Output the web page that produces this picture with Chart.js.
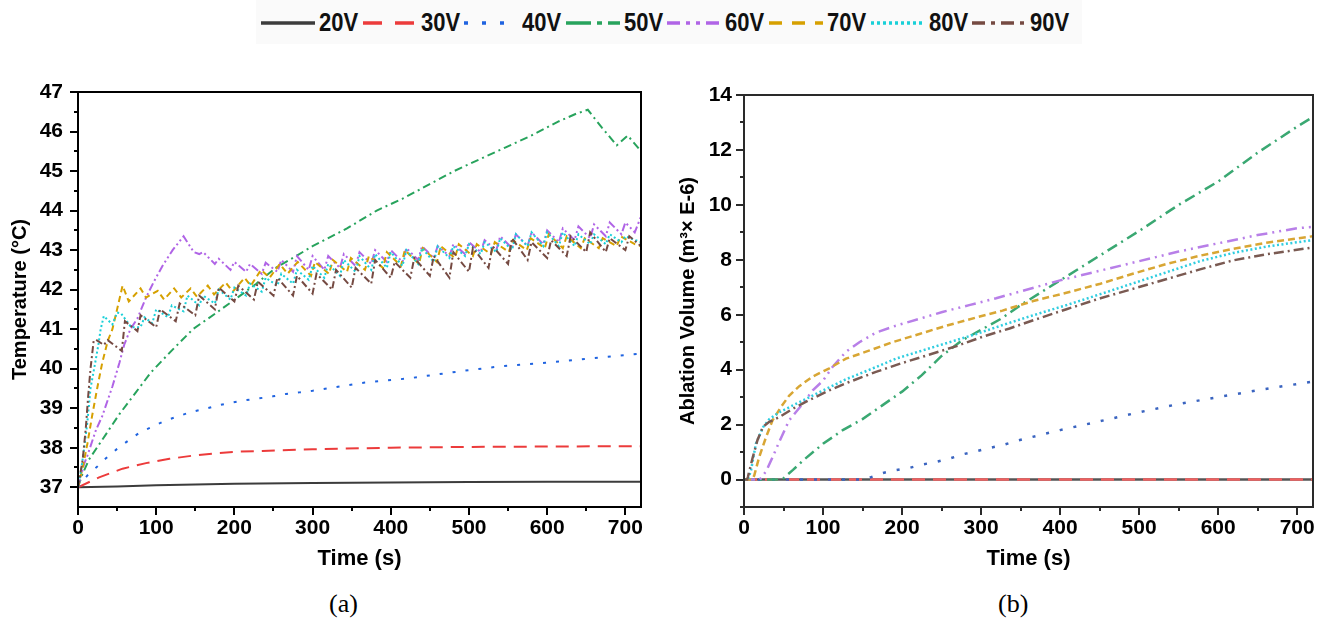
<!DOCTYPE html>
<html>
<head>
<meta charset="utf-8">
<script src="https://cdn.jsdelivr.net/npm/chart.js@4.4.0/dist/chart.umd.min.js"></script>
<style>
    html, body { margin: 0; padding: 0; background: #fff; }
    body { width: 1325px; height: 621px; position: relative; overflow: hidden; font-family: 'Liberation Sans', Arial, sans-serif; }
    #legend { position: absolute; left: 256px; top: 0; width: 826px; height: 44px; background: #fafafa; }
    .item { position: absolute; top: 0; height: 44px; width: 100px; }
    .item svg { position: absolute; left: 0; top: 19px; }
    .item span { position: absolute; left: 58px; top: 10px; font-size: 25px; line-height: 25px; font-weight: bold; color: #111; transform: scaleX(0.88); transform-origin: 0 50%; white-space: nowrap; }
    .cap { position: absolute; top: 589px; font-family: 'Liberation Serif', 'Times New Roman', serif; font-size: 26px; color: #000; }
    canvas { position: absolute; top: 50px; }
</style>
</head>
<body>
<div id="legend"></div>
<canvas id="tempChart" width="665" height="530" style="left:0"></canvas>
<canvas id="volChart" width="660" height="530" style="left:665px"></canvas>
<div class="cap" style="left:329px">(a)</div>
<div class="cap" style="left:998px">(b)</div>
<script>
(function() {
    Chart.defaults.font.family = "'Liberation Sans', Arial, sans-serif";
    Chart.defaults.color = '#000';

    // ---- values ----
    const voltages = ['20V', '30V', '40V', '50V', '60V', '70V', '80V', '90V'];
    const timeTicks = [0, 50, 100, 150, 200, 250, 300, 350, 400, 450, 500, 550, 600, 650, 700];
    const tempTicks = [37, 37.5, 38, 38.5, 39, 39.5, 40, 40.5, 41, 41.5, 42, 42.5, 43, 43.5, 44, 44.5, 45, 45.5, 46, 46.5, 47];
    const volTicks = [-1, 0, 1, 2, 3, 4, 5, 6, 7, 8, 9, 10, 11, 12, 13, 14];

    // (a) temperature, [time s, °C]
    const temp20 = [[0,37.0],[50,37.02],[100,37.05],[150,37.07],[200,37.09],[300,37.11],[400,37.12],[500,37.13],[600,37.14],[720,37.14]];
    const temp30 = [[0,37.0],[27,37.25],[57,37.47],[87,37.61],[117,37.72],[147,37.8],[176,37.86],[206,37.9],[236,37.92],[270,37.94],[300,37.96],[400,38.0],[500,38.02],[600,38.03],[720,38.04]];
    const temp40 = [[0,37.0],[12,37.3],[25,37.53],[35,37.72],[50,37.97],[65,38.19],[80,38.4],[95,38.53],[112,38.69],[129,38.8],[144,38.9],[162,38.98],[179,39.07],[196,39.14],[213,39.2],[232,39.25],[249,39.3],[266,39.36],[283,39.4],[300,39.44],[335,39.55],[367,39.65],[421,39.75],[491,39.94],[545,40.07],[598,40.15],[652,40.25],[720,40.38]];
    const temp50 = [[0,37.0],[5,37.3],[14,37.7],[31,38.2],[53,38.85],[74,39.4],[93,39.9],[117,40.4],[147,41.0],[176,41.4],[211,41.9],[228,42.15],[253,42.55],[279,42.85],[300,43.1],[344,43.55],[382,44.0],[415,44.3],[448,44.65],[481,45.0],[514,45.3],[547,45.6],[580,45.9],[614,46.25],[637,46.45],[652,46.55],[670,46.1],[689,45.65],[703,45.9],[720,45.5]];
    const temp60 = [[0,37.0],[8,37.6],[12,37.8],[23,38.45],[31,38.8],[44,39.55],[53,40.15],[59,40.6],[67,41.0],[76,41.27],[87,41.8],[97,42.2],[108,42.6],[121,43.0],[135,43.35],[148,42.95],[155,42.9],[160,42.95],[175,42.65],[180,42.78],[195,42.5],[200,42.7],[215,42.45],[220,42.65],[235,42.4],[240,42.68],[255,42.45],[260,42.75],[275,42.45],[280,42.85],[295,42.5],[300,42.85],[315,42.5],[320,42.85],[335,42.55],[340,42.9],[355,42.6],[360,42.95],[375,42.65],[380,43.0],[395,42.7],[400,43.0],[415,42.7],[420,43.05],[435,42.75],[440,43.1],[455,42.8],[460,43.1],[475,42.85],[480,43.15],[495,42.9],[500,43.2],[515,42.95],[520,43.25],[535,43.0],[540,43.35],[555,43.05],[560,43.4],[575,43.1],[580,43.45],[595,43.15],[600,43.5],[615,43.2],[620,43.55],[635,43.25],[640,43.6],[655,43.3],[660,43.65],[675,43.35],[680,43.7],[695,43.4],[700,43.7],[712,43.45],[720,43.85]];
    const temp70 = [[0,37.0],[6,37.5],[12,38.1],[18,38.8],[25,39.55],[31,40.15],[38,40.7],[44,41.0],[50,41.5],[57,42.1],[65,41.7],[80,42.03],[87,41.8],[102,41.97],[110,41.75],[123,42.03],[132,41.8],[144,42.03],[152,41.82],[166,42.1],[174,41.88],[189,42.18],[198,41.95],[213,42.3],[221,42.1],[234,42.5],[245,42.3],[258,42.65],[268,42.4],[281,42.7],[298,42.35],[303,42.7],[321,42.4],[326,42.75],[344,42.45],[349,42.8],[367,42.5],[372,42.85],[390,42.55],[395,42.95],[413,42.6],[418,43.0],[436,42.65],[441,43.05],[459,42.7],[464,43.1],[482,42.8],[487,43.15],[505,42.85],[510,43.15],[528,42.9],[533,43.2],[551,42.95],[556,43.25],[574,43.0],[579,43.3],[597,43.05],[602,43.4],[620,43.05],[625,43.35],[643,43.05],[648,43.3],[666,43.05],[671,43.3],[689,43.1],[694,43.35],[712,43.15],[720,43.1]];
    const temp80 = [[0,37.0],[3,37.3],[8,38.0],[12,38.65],[16,39.5],[22,40.15],[26,40.6],[29,41.0],[33,41.33],[44,41.12],[50,41.42],[55,41.4],[68,41.05],[80,41.05],[85,41.3],[95,41.15],[100,41.5],[115,41.3],[120,41.6],[135,41.45],[140,41.85],[155,41.6],[160,41.85],[175,41.65],[180,42.0],[195,41.75],[200,42.05],[215,41.85],[220,42.15],[235,41.95],[240,42.3],[255,42.1],[260,42.4],[275,42.15],[280,42.5],[295,42.25],[300,42.6],[315,42.3],[320,42.65],[335,42.35],[340,42.75],[355,42.45],[360,42.85],[375,42.5],[380,42.9],[395,42.55],[400,42.95],[415,42.6],[420,43.0],[435,42.65],[440,43.05],[455,42.7],[460,43.1],[475,42.8],[480,43.1],[495,42.85],[500,43.15],[515,42.9],[520,43.2],[535,42.95],[540,43.3],[555,43.0],[560,43.4],[575,43.1],[580,43.45],[595,43.1],[600,43.45],[615,43.1],[620,43.45],[635,43.1],[640,43.4],[655,43.15],[660,43.4],[675,43.15],[680,43.4],[695,43.2],[700,43.35],[720,43.2]];
    const temp90 = [[0,37.0],[6,37.7],[10,38.5],[13,39.3],[16,40.0],[20,40.7],[23,40.73],[33,40.6],[38,40.72],[56,40.45],[60,41.2],[76,40.95],[80,41.35],[100,41.05],[105,41.5],[125,41.2],[130,41.65],[150,41.35],[155,41.85],[175,41.5],[180,42.05],[200,41.7],[205,42.1],[225,41.75],[230,42.2],[250,41.85],[255,42.3],[275,41.85],[280,42.35],[300,41.9],[305,42.4],[325,42.0],[330,42.5],[350,42.05],[355,42.55],[375,42.15],[380,42.75],[400,42.3],[405,42.7],[425,42.3],[430,42.8],[450,42.35],[455,42.85],[475,42.3],[480,42.95],[500,42.45],[505,43.05],[525,42.55],[530,43.1],[550,42.65],[555,43.3],[575,42.75],[580,43.2],[600,42.8],[605,43.25],[625,42.85],[630,43.35],[650,42.95],[655,43.45],[675,42.95],[680,43.3],[700,43.0],[705,43.35],[720,43.1]];

    // (b) ablation volume, [time s, m3 x E-6]
    const vol20 = [[0,0],[720,0]];
    const vol30 = [[0,0],[720,0]];
    const vol40 = [[0,0],[150,0],[160,0.08],[176,0.24],[192,0.34],[209,0.42],[226,0.55],[243,0.64],[260,0.76],[277,0.92],[294,1.03],[311,1.15],[327,1.25],[345,1.41],[400,1.8],[450,2.12],[500,2.45],[550,2.75],[600,3.0],[650,3.25],[720,3.57]];
    const vol50 = [[0,0],[45,0],[50,0.05],[62,0.35],[75,0.7],[100,1.3],[125,1.8],[150,2.2],[175,2.7],[200,3.2],[225,3.8],[250,4.5],[275,5.05],[300,5.45],[325,5.85],[350,6.35],[375,6.8],[400,7.25],[450,8.15],[500,9.05],[550,10.0],[600,10.85],[650,11.9],[700,12.85],[720,13.2]];
    const vol60 = [[0,0],[20,0],[28,0.3],[36,0.8],[45,1.4],[57,2.15],[74,2.75],[87,3.25],[100,3.6],[112,4.1],[129,4.65],[146,5.0],[167,5.35],[192,5.6],[222,5.85],[251,6.1],[285,6.35],[319,6.6],[350,6.85],[400,7.25],[450,7.6],[500,7.95],[550,8.3],[600,8.6],[650,8.9],[700,9.15],[720,9.2]];
    const vol70 = [[0,0],[10,0],[13,0.15],[19,0.8],[28,1.55],[36,2.15],[47,2.65],[57,3.05],[70,3.4],[87,3.75],[108,4.05],[129,4.4],[159,4.7],[188,5.0],[222,5.3],[256,5.6],[294,5.9],[327,6.15],[366,6.5],[408,6.8],[451,7.13],[493,7.5],[535,7.85],[577,8.15],[619,8.4],[661,8.62],[720,8.86]];
    const vol80 = [[0,0],[5,0],[9,0.35],[15,1.3],[24,1.9],[32,2.2],[45,2.45],[62,2.7],[83,3.0],[104,3.3],[129,3.65],[159,4.0],[192,4.4],[226,4.7],[260,5.0],[294,5.3],[330,5.65],[366,5.98],[408,6.35],[451,6.75],[493,7.15],[535,7.55],[577,7.95],[619,8.25],[661,8.48],[720,8.72]];
    const vol90 = [[0,0],[4,0],[5,0.1],[11,0.8],[17,1.43],[24,1.92],[32,2.1],[45,2.28],[62,2.58],[83,2.9],[108,3.25],[133,3.55],[167,3.92],[201,4.25],[235,4.55],[268,4.85],[302,5.2],[336,5.5],[366,5.8],[408,6.2],[451,6.6],[493,6.95],[535,7.3],[577,7.65],[619,7.98],[661,8.2],[720,8.45]];

    // ---- styles ----
    const leftStyle = [
        { color: '#3c3c3c', dash: [] },
        { color: '#ec3b3b', dash: [13, 8] },
        { color: '#1f63e0', dash: [3, 10] },
        { color: '#27a35c', dash: [8, 4, 2, 4] },
        { color: '#b064e6', dash: [8, 3, 2, 3, 2, 3] },
        { color: '#d6a000', dash: [6, 4] },
        { color: '#18d0d8', dash: [2, 2.5] },
        { color: '#754a42', dash: [7, 3, 2, 3] }
    ];
    const rightStyle = [
        { color: '#555555', dash: [] },
        { color: '#f06060', dash: [13, 8] },
        { color: '#3a64c0', dash: [3, 11] },
        { color: '#3aa872', dash: [11, 5, 2, 5] },
        { color: '#b87fe8', dash: [11, 5, 2, 5, 2, 5] },
        { color: '#d8a634', dash: [7, 4] },
        { color: '#30cde0', dash: [2, 2.5] },
        { color: '#7a5a52', dash: [10, 4, 2, 4] }
    ];
    const legendDash = ['', '19 13', '4 14', '25 6 5 6', '13 6 4 6 4 6', '13 10', '3 3', '13 6 4 6'];

    // ---- legend ----
    const legendEl = document.getElementById('legend');
    voltages.forEach((v, i) => {
        const item = document.createElement('div');
        item.className = 'item';
        item.style.left = (5 + i * 101.6) + 'px';
        item.innerHTML = '<svg width="54" height="8"><line x1="0" y1="4" x2="54" y2="4" stroke="' + leftStyle[i].color +
            '" stroke-width="3.5" stroke-dasharray="' + legendDash[i] + '"/></svg><span>' + v + '</span>';
        legendEl.appendChild(item);
    });

    // frame round the plot area and outward tick marks (long on labelled ticks)
    const frameTicks = {
        id: 'frameTicks',
        afterDraw(chart, args, o) {
            const { ctx, chartArea: a } = chart;
            const xs = chart.scales.x, ys = chart.scales.y;
            ctx.save();
            ctx.strokeStyle = o.color;
            ctx.lineWidth = o.frame;
            ctx.strokeRect(a.left, a.top, a.right - a.left, a.bottom - a.top);
            ctx.lineWidth = o.tick;
            xs.ticks.forEach(t => {
                const p = Math.round(xs.getPixelForValue(t.value));
                const len = t.label === '' ? 4 : 8;
                ctx.beginPath(); ctx.moveTo(p, a.bottom); ctx.lineTo(p, a.bottom + len); ctx.stroke();
            });
            ys.ticks.forEach(t => {
                const p = Math.round(ys.getPixelForValue(t.value));
                const len = t.label === '' ? 4 : 8;
                ctx.beginPath(); ctx.moveTo(a.left, p); ctx.lineTo(a.left - len, p); ctx.stroke();
            });
            ctx.restore();
        }
    };

    function buildChart(id, series, styles, width, o) {
        return new Chart(document.getElementById(id), {
            type: 'line',
            data: {
                datasets: series.map((s, i) => ({
                    label: voltages[i],
                    data: s.map(p => ({ x: p[0], y: p[1] })),
                    borderColor: styles[i].color,
                    borderDash: styles[i].dash,
                    borderWidth: width,
                    pointRadius: 0,
                    tension: 0,
                    fill: false,
                    order: -i
                }))
            },
            options: {
                responsive: false,
                animation: false,
                events: [],
                layout: { padding: o.padding },
                plugins: {
                    legend: { display: false },
                    tooltip: { enabled: false },
                    frameTicks: { color: o.frameColor, frame: 2, tick: 2 }
                },
                scales: {
                    x: {
                        type: 'linear',
                        min: 0,
                        max: 720,
                        afterBuildTicks: s => { s.ticks = timeTicks.map(v => ({ value: v })); },
                        afterFit: s => { s.height = 65; },
                        ticks: {
                            autoSkip: false,
                            maxRotation: 0,
                            padding: 2,
                            font: { size: 21, weight: 'bold' },
                            callback: v => (v % 100 === 0 ? v : '')
                        },
                        grid: { drawOnChartArea: false, drawTicks: true, tickLength: 7, color: 'rgba(0,0,0,0)' },
                        border: { display: false },
                        title: { display: true, text: 'Time (s)', font: { size: 22, weight: 'bold' }, padding: { top: 0, bottom: 0 } }
                    },
                    y: {
                        min: o.yMin,
                        max: o.yMax,
                        afterBuildTicks: s => { s.ticks = o.yTicks.map(v => ({ value: v })); },
                        afterFit: s => { s.width = o.yWidth; },
                        ticks: {
                            autoSkip: false,
                            padding: o.yPad,
                            font: { size: 21, weight: 'bold' },
                            callback: o.yLabel
                        },
                        grid: { drawOnChartArea: false, drawTicks: true, tickLength: 7, color: 'rgba(0,0,0,0)' },
                        border: { display: false },
                        title: { display: true, text: o.yTitle, font: { size: 20, weight: 'bold' }, padding: { top: o.titlePad, bottom: 0 } }
                    }
                }
            },
            plugins: [frameTicks]
        });
    }

    buildChart('tempChart', [temp20, temp30, temp40, temp50, temp60, temp70, temp80, temp90], leftStyle, 2, {
        padding: { left: 0, top: 42, right: 24, bottom: 8 },
        yMin: 36.5, yMax: 47, yTicks: tempTicks, yWidth: 78, yPad: 8, titlePad: 8,
        yLabel: v => (Number.isInteger(v) ? v : ''),
        yTitle: 'Temperature (°C)',
        frameColor: '#000'
    });

    buildChart('volChart', [vol20, vol30, vol40, vol50, vol60, vol70, vol80, vol90], rightStyle, 2.5, {
        padding: { left: 0, top: 45, right: 12, bottom: 8 },
        yMin: -1, yMax: 14, yTicks: volTicks, yWidth: 79, yPad: 5, titlePad: 11,
        yLabel: v => (v >= 0 && v % 2 === 0 ? v : ''),
        yTitle: 'Ablation Volume (m³× E-6)',
        frameColor: '#2a2a2a'
    });
})();
</script>
</body>
</html>
